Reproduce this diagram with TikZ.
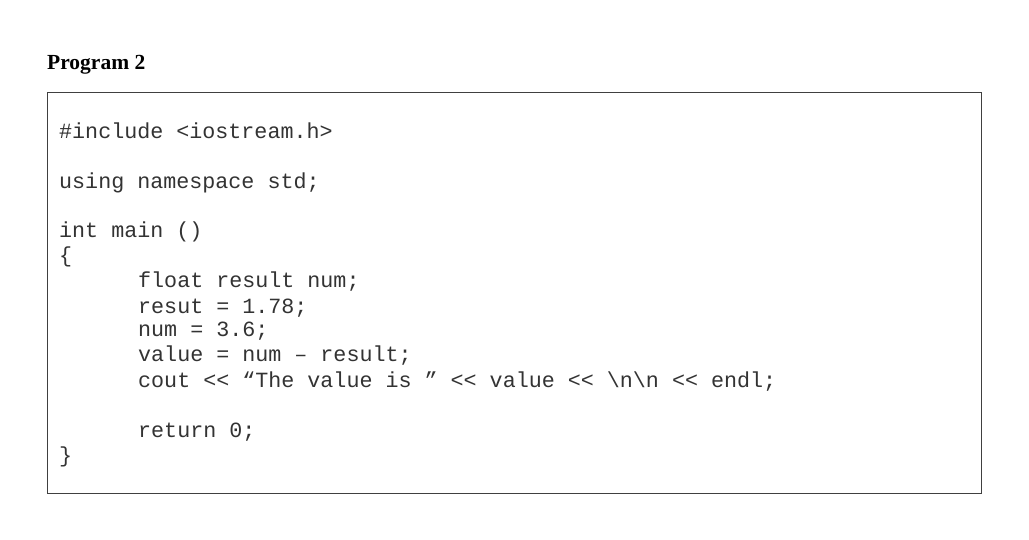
\documentclass[tikz,border=0pt]{standalone}
\usepackage{fontspec}
\setmainfont{Liberation Serif}
\setmonofont{Liberation Mono}
\begin{document}
\begin{tikzpicture}[x=1pt,y=-1pt,
  code/.style={anchor=base west,inner sep=0pt,font=\fontsize{21.7}{24}\ttfamily,text=black!80}]
\useasboundingbox (0,0) rectangle (1029,540);
\node[anchor=base west,inner sep=0pt,font=\fontsize{21.5}{24}\bfseries\rmfamily] (title) at (47,70) {Program 2};
\draw[black!75,line width=1pt] (47,93) rectangle (981,493);
\node[code] (l1) at (59,139) {\#include <iostream.h>};
\node[code] (l2) at (59,189) {using namespace std;};
\node[code] (l3) at (59,238) {int main ()};
\node[code] (l4) at (59,263) {\{};
\node[code] (l5) at (138,288) {float result num;};
\node[code] (l6) at (138,313) {resut = 1.78;};
\node[code] (l7) at (138,337) {num = 3.6;};
\node[code] (l8) at (138,362) {value = num – result;};
\node[code] (l9) at (138,387) {cout << “The value is ” << value << \textbackslash n\textbackslash n << endl;};
\node[code] (l10) at (138,437) {return 0;};
\node[code] (l11) at (59,462) {\}};
\end{tikzpicture}
\end{document}
